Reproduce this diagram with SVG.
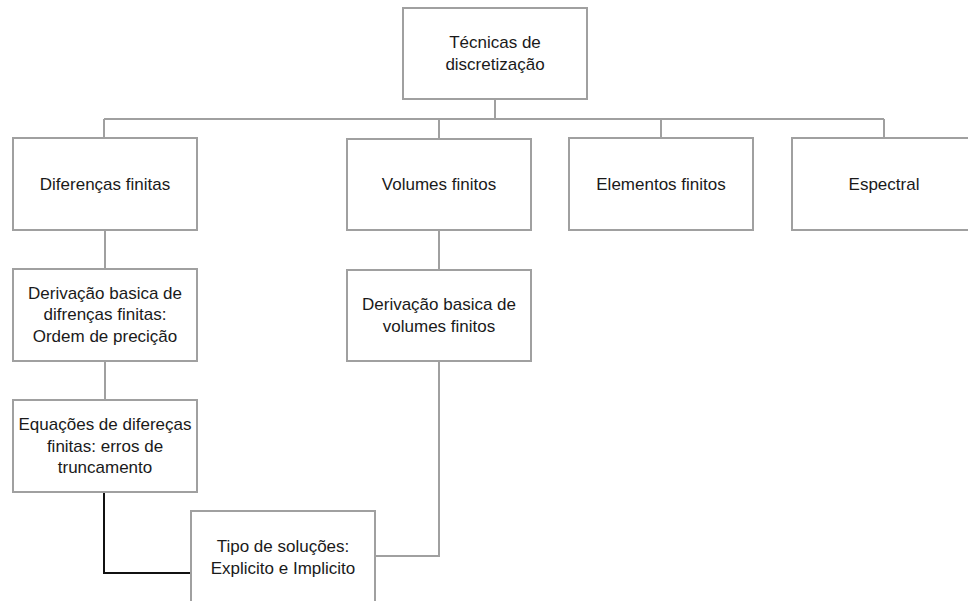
<svg xmlns="http://www.w3.org/2000/svg" width="968" height="601" viewBox="0 0 968 601">
<style>
.box{fill:#fff;stroke:#a0a0a0;stroke-width:2}
.t{font-family:"Liberation Sans",Arial,sans-serif;font-size:17px;fill:#1a1a1a;text-anchor:middle}
.c{fill:none;stroke:#a0a0a0;stroke-width:2}
.k{fill:none;stroke:#111;stroke-width:2}
</style>
<rect width="968" height="601" fill="#fff"/>
<g id="connectors">
<path class="c" d="M495 99V119M104 119H884M104 119V138M439 119V138M661 119V138M884 119V138"/>
<path class="c" d="M105 230V269M105 361V400M439 230V270M439 361V556H375"/>
<path class="k" d="M104 492V573H191"/>
</g>
<g id="tecnicas"><rect class="box" x="403" y="8" width="184" height="91"/><text class="t" x="495" y="48">Técnicas de</text><text class="t" x="495" y="70">discretização</text></g>
<g id="diferencas"><rect class="box" x="13" y="138" width="184" height="92"/><text class="t" x="105" y="190">Diferenças finitas</text></g>
<g id="volumes"><rect class="box" x="347" y="139" width="184" height="91"/><text class="t" x="439" y="190">Volumes finitos</text></g>
<g id="elementos"><rect class="box" x="569" y="138" width="184" height="92"/><text class="t" x="661" y="190">Elementos finitos</text></g>
<g id="espectral"><rect class="box" x="792" y="138" width="184" height="92"/><text class="t" x="884" y="190">Espectral</text></g>
<g id="derivacao-df"><rect class="box" x="13" y="269" width="184" height="92"/><text class="t" x="105" y="299">Derivação basica de</text><text class="t" x="105" y="320">difrenças finitas:</text><text class="t" x="105" y="342">Ordem de precição</text></g>
<g id="derivacao-vf"><rect class="box" x="347" y="270" width="184" height="91"/><text class="t" x="439" y="310">Derivação basica de</text><text class="t" x="439" y="332">volumes finitos</text></g>
<g id="equacoes"><rect class="box" x="13" y="400" width="184" height="92"/><text class="t" x="105" y="430">Equações de difereças</text><text class="t" x="105" y="452">finitas: erros de</text><text class="t" x="105" y="473">truncamento</text></g>
<g id="tipo"><rect class="box" x="191" y="511" width="184" height="100"/><text class="t" x="283" y="552">Tipo de soluções:</text><text class="t" x="283" y="574">Explicito e Implicito</text></g>
</svg>
